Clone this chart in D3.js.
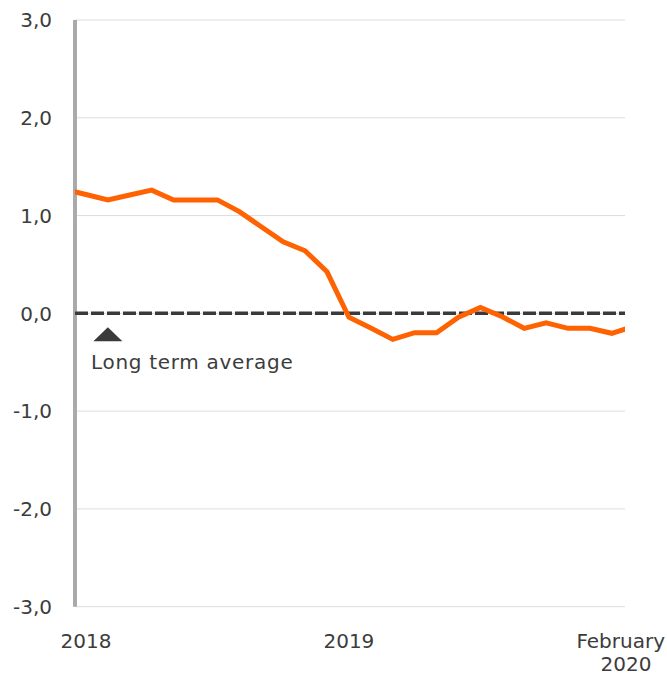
<!DOCTYPE html>
<html>
<head>
<meta charset="utf-8">
<script src="https://cdn.jsdelivr.net/npm/d3@7"></script>
<style>
  html, body { margin: 0; padding: 0; background: #fff; }
  svg { display: block; font-family: "DejaVu Sans", sans-serif; }
</style>
</head>
<body>
<svg id="chart" width="667" height="677"></svg>
<script>
// Monthly series, Dec 2017 (index -1) to Feb 2020 (index 25)
const months = ["Dec 2017","Jan 2018","Feb 2018","Mar 2018","Apr 2018","May 2018","Jun 2018","Jul 2018","Aug 2018","Sep 2018","Oct 2018","Nov 2018","Dec 2018",
  "Jan 2019","Feb 2019","Mar 2019","Apr 2019","May 2019","Jun 2019","Jul 2019","Aug 2019","Sep 2019","Oct 2019","Nov 2019","Dec 2019",
  "Jan 2020","Feb 2020"];
const values = [1.27, 1.215, 1.16, 1.21, 1.26, 1.16, 1.16, 1.16, 1.04, 0.886, 0.732, 0.64, 0.425,
  -0.04, -0.15, -0.266, -0.198, -0.198, -0.04, 0.061, -0.035, -0.153, -0.096, -0.153, -0.153,
  -0.204, -0.134];
const yTicks = [3, 2, 1, 0, -1, -2, -3];
const xTickLabels = [{i: 0, lines: ["2018"]}, {i: 12, lines: ["2019"]}];
const lastLabel = ["February", "2020"];
const averageValue = 0;
const averageLabel = "Long term average";

const svg = d3.select("#chart");
const mLeft = 75, mRight = 625, mTop = 20, mBottom = 606.7;

const x = d3.scaleLinear().domain([-0.5, 24.6]).range([mLeft, mRight]);
const y = d3.scaleLinear().domain([-3, 3]).range([mBottom, mTop]);
const fmt = v => d3.format(".1f")(v).replace(".", ",").replace("−", "-");
const txtCol = "#3c3c3c";

// gridlines
svg.append("g").selectAll("line").data(yTicks).join("line")
  .attr("x1", mLeft).attr("x2", mRight)
  .attr("y1", d => y(d)).attr("y2", d => y(d))
  .attr("stroke", "#dcdcdc").attr("stroke-width", 1);

// y labels
svg.append("g").selectAll("text").data(yTicks).join("text")
  .attr("x", 52).attr("y", d => y(d)).attr("dy", "0.36em")
  .attr("text-anchor", "end").attr("font-size", 20).attr("fill", txtCol)
  .text(d => fmt(d));

// left axis bar
svg.append("line").attr("x1", mLeft).attr("x2", mLeft).attr("y1", mTop).attr("y2", mBottom)
  .attr("stroke", "#aaaaaa").attr("stroke-width", 4);

// x labels
svg.append("g").selectAll("text").data(xTickLabels).join("text")
  .attr("text-anchor", "middle").attr("font-size", 20).attr("fill", txtCol)
  .attr("x", d => x(d.i)).attr("y", 648).text(d => d.lines[0]);
svg.append("text").attr("font-size", 20).attr("fill", txtCol)
  .attr("x", 665).attr("y", 648).attr("text-anchor", "end").text(lastLabel[0]);
svg.append("text").attr("font-size", 20).attr("fill", txtCol)
  .attr("x", 626).attr("y", 671).attr("text-anchor", "middle").text(lastLabel[1]);

// clip
svg.append("clipPath").attr("id", "clip").append("rect")
  .attr("x", mLeft).attr("y", 0).attr("width", mRight - mLeft).attr("height", 677);

// average dashed line
svg.append("line").attr("x1", mLeft).attr("x2", mRight)
  .attr("y1", y(averageValue)).attr("y2", y(averageValue))
  .attr("stroke", "#3a3a3a").attr("stroke-width", 3.5)
  .attr("stroke-dasharray", "13,3").attr("stroke-linecap", "butt");

// series line
const line = d3.line().x((d, i) => x(i - 1)).y(d => y(d));
svg.append("path").datum(values).attr("clip-path", "url(#clip)")
  .attr("d", line).attr("fill", "none")
  .attr("stroke", "#ff6200").attr("stroke-width", 5).attr("stroke-linejoin", "miter");

// annotation triangle + label
const tx = x(1), ty = y(averageValue) + 14;
svg.append("path")
  .attr("d", d3.line()([[tx - 14.5, ty + 14], [tx + 14.5, ty + 14], [tx, ty]]) + "Z")
  .attr("fill", "#3a3a3a");
svg.append("text").attr("x", 91).attr("y", 369).attr("font-size", 20).attr("fill", txtCol)
  .attr("letter-spacing", 0.7).text(averageLabel);
</script>
</body>
</html>
